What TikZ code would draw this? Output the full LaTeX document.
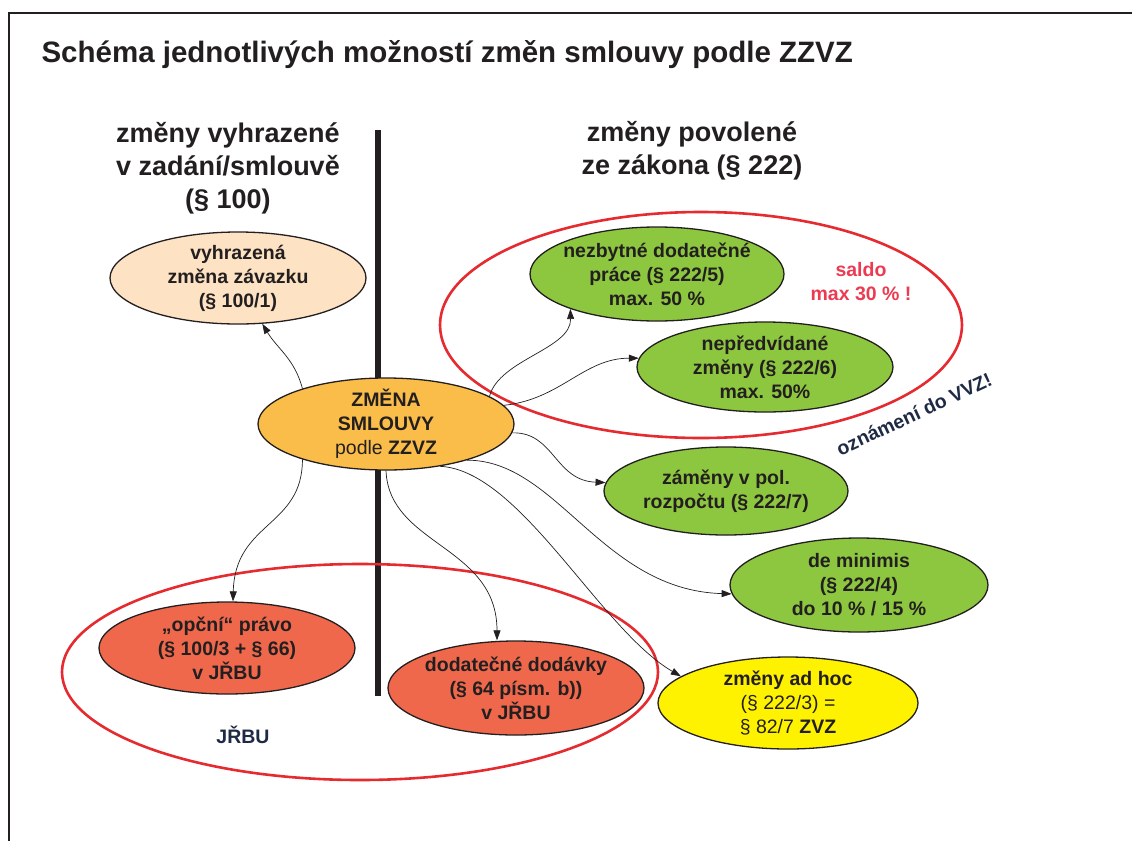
\documentclass[tikz,border=0pt]{standalone}
\usepackage{fontspec}
\setmainfont{Liberation Sans}
\usetikzlibrary{shapes.geometric,arrows.meta,scopes}

\definecolor{ink}{HTML}{231F20}
\definecolor{peach}{HTML}{FDE2C3}
\definecolor{amber}{HTML}{FBBD49}
\definecolor{leaf}{HTML}{8DC63F}
\definecolor{coral}{HTML}{EF684B}
\definecolor{lemon}{HTML}{FFF200}
\definecolor{ringred}{HTML}{E52A30}
\definecolor{saldored}{HTML}{EC3A50}
\definecolor{navy}{HTML}{1F2A44}

\begin{document}
\begin{tikzpicture}[x=1pt, y=-1pt,
  blob/.style={ellipse, draw=ink, line width=1.3pt, inner sep=0pt,
    minimum width=256pt, minimum height=92pt},
  txt/.style={align=center, text=ink, font=\fontsize{19.5}{24}\selectfont\bfseries},
  colhead/.style={align=center, text=ink, font=\fontsize{27}{33}\selectfont\bfseries},
  ring/.style={draw=ringred, line width=2.6pt},
  conn/.style={ink, line width=0.7pt, -{Triangle[length=10pt,width=7pt]}},
  ]
  \useasboundingbox (0,0) rectangle (1132,841);

  % Frame
  \draw[line width=2.5pt, ink] (9,841) -- (9,13) -- (1132,13);

  % Title
  \node[anchor=base west, text=ink, font=\fontsize{29.5}{36}\selectfont\bfseries] (title) at (38,62)
    {Schéma jednotlivých možností změn smlouvy podle ZZVZ};

  %% Column headings and divider
  \node[colhead] (lefthead) at (228,168) {změny vyhrazené\\v zadání/smlouvě\\(§ 100)};
  \node[colhead] (righthead) at (692,151) {změny povolené\\ze zákona (§ 222)};
  \draw[line width=5.5pt, ink] (378,130) -- (378,696);

  % Red rings
  \draw[ring] (701,325) ellipse (261pt and 113pt);
  \draw[ring] (360,672) ellipse (298pt and 108pt);

  %% Ellipses
  \node[blob, fill=amber] (zmena) at (386,424) {};
  \node[txt] (zmena-t) at (zmena) {ZMĚNA\\SMLOUVY\\{\mdseries podle} ZZVZ};

  \node[blob, fill=peach] (vyhr) at (238,278) {};
  \node[txt] (vyhr-t) at (vyhr) {vyhrazená\\změna závazku\\(§ 100/1)};

  \node[blob, fill=leaf, minimum width=254pt, minimum height=94pt] (nezb) at (657,274) {};
  \node[txt] (nezb-t) at (nezb) {nezbytné dodatečné\\práce (§ 222/5)\\max. 50 \%};

  \node[blob, fill=leaf, minimum height=90pt] (nepr) at (765,367) {};
  \node[txt] (nepr-t) at (nepr) {nepředvídané\\změny (§ 222/6)\\max. 50\%};

  \node[blob, fill=leaf, minimum width=244pt, minimum height=88pt] (zamen) at (726,491) {};
  \node[txt] (zamen-t) at (zamen) {záměny v pol.\\rozpočtu (§ 222/7)};

  \node[blob, fill=leaf, minimum width=258pt, minimum height=94pt] (demin) at (859,585) {};
  \node[txt] (demin-t) at (demin) {de minimis\\(§ 222/4)\\do 10 \% / 15 \%};

  \node[blob, fill=lemon, minimum width=260pt] (adhoc) at (788,703) {};
  \node[txt] (adhoc-t) at (adhoc) {změny ad hoc\\{\mdseries (§ 222/3) =}\\{\mdseries § 82/7} ZVZ};

  \node[blob, fill=coral] (opcni) at (227,648) {};
  \node[txt] (opcni-t) at (opcni) {„opční“ právo\\(§ 100/3 + § 66)\\v JŘBU};

  \node[blob, fill=coral, minimum height=94pt] (dodat) at (516,688) {};
  \node[txt] (dodat-t) at (dodat) {dodatečné dodávky\\(§ 64 písm. b))\\v JŘBU};

  % Notes
  \node[txt, text=saldored] (saldo) at (861,282) {saldo\\max 30 \% !};
  \node[txt, text=navy, rotate=25] (vvz) at (914,414) {oznámení do VVZ!};
  \node[txt, text=navy] (jrbu) at (243,735) {JŘBU};

  % Arrows out of the contract change
  {[conn]
    \draw (zmena.157) .. controls +(-8,-30) and +(15,25) .. (vyhr.-62);
    \draw (zmena.15) .. controls +(10,-37) and +(1,40) .. (nezb.202);
    \draw (zmena.9) .. controls +(57,-6) and +(-55,0) .. (nepr.176);
    \draw (zmena.-4) .. controls +(42,-1) and +(-51,-2) .. (zamen.176);
    \draw (zmena.-24) .. controls +(90,0) and +(-130,-4) .. (demin.184);
    \draw (zmena.-38) .. controls +(80,4) and +(-81,-47) .. (adhoc.166);
    \draw (zmena.-90) .. controls +(3,75) and +(0,-95) .. ([xshift=-19pt]dodat.north);
    \draw (zmena.203) .. controls +(0,68) and +(2,-80) .. ([xshift=6pt]opcni.north);
  }
\end{tikzpicture}
\end{document}
